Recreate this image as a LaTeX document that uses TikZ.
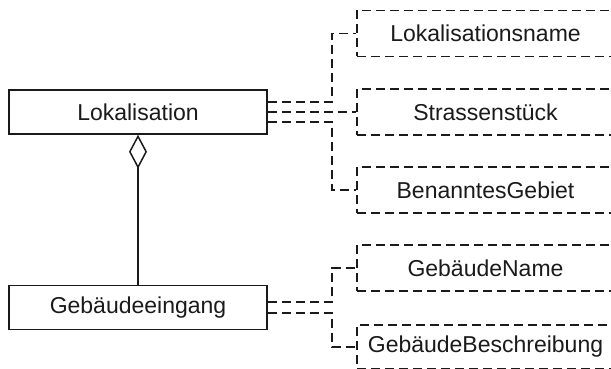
\documentclass[tikz,border=0pt]{standalone}
\usepackage{fontspec}
\setmainfont{Liberation Sans}
\usetikzlibrary{arrows.meta}
\definecolor{Ink}{HTML}{1A1A1A}

\begin{document}
\begin{tikzpicture}[x=0.5pt,y=-0.5pt,
  font=\fontsize{11.5}{14}\selectfont,
  cls/.style={draw=Ink,line width=0.75pt,minimum width=129pt,minimum height=22pt,inner sep=2pt,text=Ink},
  attr/.style={draw=Ink,line width=0.7pt,dash pattern=on 4.5pt off 2.5pt,minimum width=128.5pt,minimum height=23pt,inner sep=2pt,text=Ink},
  conn/.style={draw=Ink,line width=0.7pt,dash pattern=on 4.5pt off 2.5pt},
  agg/.style={{Diamond[open,length=17pt,width=9pt]}-,draw=Ink,line width=0.75pt}]
\useasboundingbox (0,0) rectangle (611,369);
\clip (0,0) rectangle (611,369);
\node[cls](lok) at (138,112){Lokalisation};
\node[cls](ein) at (138,307.5){Gebäudeeingang};
\node[attr](lname) at (485.5,33.5){Lokalisationsname};
\node[attr](strs) at (485.5,112){Strassenstück};
\node[attr](gebiet) at (485.5,190){BenanntesGebiet};
\node[attr](gname) at (485.5,268){GebäudeName};
\node[attr,minimum height=22pt](gbes) at (485.5,347){GebäudeBeschreibung};
\coordinate (jl) at (332,0);
% Lokalisation attributes
\draw[conn]([yshift=5pt]lok.east)-|(jl|-lname.west)--(lname.west);
\draw[conn](lok.east)--(strs.west);
\draw[conn]([yshift=-5pt]lok.east)-|(jl|-gebiet.west)--(gebiet.west);
% Gebaeudeeingang attributes
\draw[conn]([yshift=2.75pt]ein.east)-|(jl|-gname.west)--(gname.west);
\draw[conn]([yshift=-2.75pt]ein.east)-|(jl|-gbes.west)--(gbes.west);
\draw[agg](lok)--(ein);
\end{tikzpicture}
\end{document}
